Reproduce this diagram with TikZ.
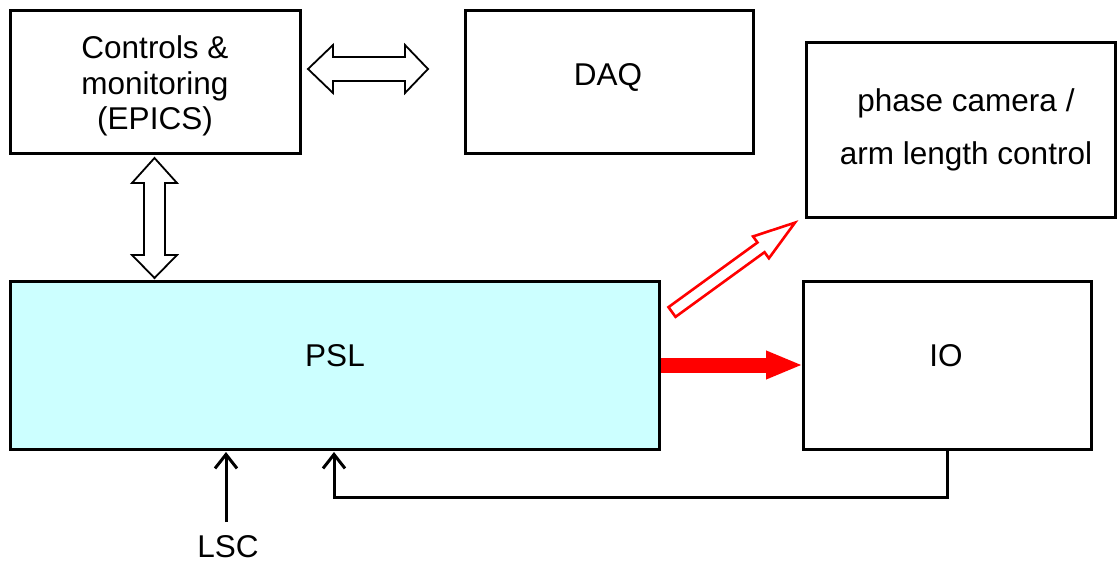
\documentclass[tikz,border=0pt]{standalone}
\usepackage{fontspec}
\setmainfont{Liberation Sans}
\usetikzlibrary{arrows.meta}
\definecolor{pslcyan}{HTML}{CCFFFF}
\begin{document}
\begin{tikzpicture}[x=1pt,y=-1pt,
  box/.style={draw=black, line width=3pt, inner sep=0pt, outer sep=0pt},
  lbl/.style={font=\fontsize{31.5}{35.5}\selectfont, inner sep=0pt, outer sep=0pt},
  hollow/.style={draw=black, line width=1.8pt, fill=white, line join=miter},
  sigline/.style={draw=black, line width=3pt, -{Straight Barb[length=14pt,width=22pt]}}]
\useasboundingbox (0,0) rectangle (1117,562);
% boxes
\node[box, minimum width=290pt, minimum height=143pt] (ctrl) at (155,81.5) {};
\node[box, minimum width=288pt, minimum height=143pt] (daq) at (609,81.5) {};
\node[box, minimum width=309pt, minimum height=175pt] (cam) at (960.5,129.5) {};
\node[box, fill=pslcyan, minimum width=649pt, minimum height=168pt] (psl) at (334.5,365) {};
\node[box, minimum width=288pt, minimum height=168pt] (io) at (947,365) {};
% texts
\node[lbl, align=center] (ctrlT) at (155,86) {Controls \&\\monitoring\\(EPICS)};
\node[lbl, anchor=base] (daqT) at (608,85) {DAQ};
\node[lbl, font=\fontsize{31.5}{53}\selectfont, align=center] (camT) at (966,130) {phase camera /\\arm length control};
\node[lbl, anchor=base] (pslT) at (335,366.5) {PSL};
\node[lbl, anchor=base] (ioT) at (946,366.5) {IO};
\node[lbl, anchor=base] (lsc) at (228,557) {LSC};
% hollow double arrow ctrl <-> daq
\draw[hollow] (308,69) -- (333,45) -- (333,57) -- (405,57) -- (405,45) -- (428,69)
  -- (405,93) -- (405,81) -- (333,81) -- (333,93) -- cycle;
% hollow double arrow ctrl <-> psl
\draw[hollow] (154.5,158) -- (177,183) -- (165,183) -- (165,255) -- (177,255) -- (154.5,278)
  -- (132,255) -- (144,255) -- (144,183) -- (132,183) -- cycle;
% red hollow arrow psl -> cam
\begin{scope}[shift={(672,312)}, rotate=36]
\draw[red, line width=2.6pt, fill=white, line join=miter] (0,-6) -- (110,-6) -- (110,-13.5) -- (152,0)
  -- (110,13.5) -- (110,6) -- (0,6) -- cycle;
\end{scope}
% red solid arrow psl -> io
\draw[red, line width=15pt, -{Triangle[length=37pt,width=26pt]}] ([xshift=1.5pt]psl.east) -- (io.west);
% LSC arrow
\coordinate (lscStart) at (226,522);
\coordinate (lscTip) at (226,452);
\draw[sigline] (lscStart) -- (lscTip);
% feedback io -> psl
\coordinate (fbTip) at (334,452);
\draw[sigline] (io.south) -- ++(0,48) -| (fbTip);
\end{tikzpicture}
\end{document}
